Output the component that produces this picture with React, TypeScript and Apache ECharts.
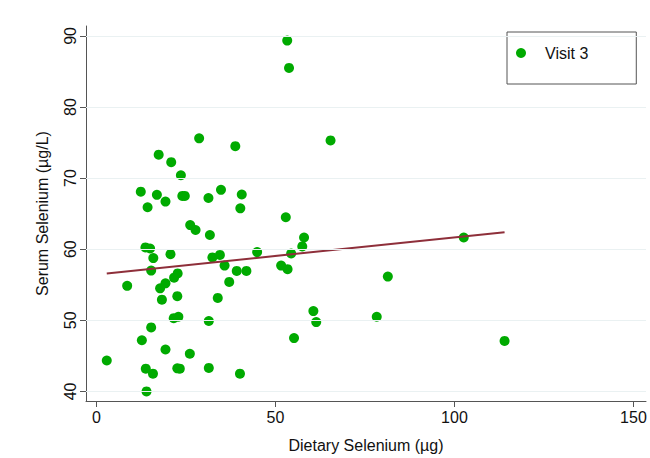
import React, { useEffect, useRef } from "react";
import * as echarts from "echarts";

const dietary: number[] = [
  53.3, 53.8, 28.7, 38.8, 65.4, 17.4, 20.9, 23.6, 12.4, 16.9,
  19.3, 14.3, 24.0, 24.7, 31.3, 34.8, 40.6, 40.2, 52.9, 26.2,
  27.7, 31.7, 13.7, 15.0, 20.7, 15.9, 32.4, 34.5, 44.9, 58.0,
  57.5, 54.4, 35.8, 39.2, 41.9, 51.6, 53.4, 15.3, 22.7, 21.7,
  19.3, 17.8, 8.6, 37.1, 22.6, 18.3, 33.9, 21.6, 22.9, 31.4,
  15.3, 12.7, 19.3, 26.1, 2.9, 13.8, 15.8, 22.6, 23.3, 31.4,
  40.1, 14.0, 60.6, 61.4, 55.2, 102.6, 81.4, 78.3, 114.0,
];
const serum: number[] = [
  89.35, 85.5, 75.6, 74.5, 75.3, 73.3, 72.25, 70.4, 68.1, 67.65,
  66.7, 65.9, 67.5, 67.5, 67.2, 68.35, 67.7, 65.75, 64.5, 63.4,
  62.7, 62.0, 60.25, 60.1, 59.3, 58.75, 58.85, 59.2, 59.6, 61.65,
  60.4, 59.4, 57.7, 56.95, 56.95, 57.7, 57.2, 57.0, 56.6, 56.0,
  55.2, 54.5, 54.85, 55.4, 53.4, 52.9, 53.15, 50.3, 50.5, 49.9,
  49.0, 47.2, 45.9, 45.3, 44.35, 43.2, 42.5, 43.25, 43.2, 43.3,
  42.5, 40.0, 51.3, 49.75, 47.5, 61.65, 56.15, 50.5, 47.1,
];
const fitX: number[] = [2.9, 114.0];
const fitY: number[] = [56.6, 62.4];
const xTicks: number[] = [0, 50, 100, 150];
const yTicks: number[] = [40, 50, 60, 70, 80, 90];

const FONT = "Arial, 'Liberation Sans', sans-serif";

export default function App() {
  const ref = useRef<HTMLDivElement>(null);
  useEffect(() => {
    if (!ref.current) return;
    const chart = echarts.init(ref.current, undefined, { renderer: "svg" });
    chart.setOption({
      animation: false,
      backgroundColor: "#ffffff",
      textStyle: { fontFamily: FONT },
      grid: { left: 86, right: 4, top: 26, bottom: 53 },
      legend: {
        left: 507,
        top: 32,
        orient: "vertical",
        padding: [12, 48, 22, 9],
        borderColor: "#555555",
        borderWidth: 1,
        itemWidth: 10,
        itemHeight: 10,
        data: [{ name: "Visit 3", icon: "circle", itemStyle: { color: "#00aa00", opacity: 1 } }],
        textStyle: {
          fontFamily: FONT,
          fontSize: 16,
          color: "#111111",
          lineHeight: 18,
          padding: [0, 0, 0, 14],
        },
      },
      xAxis: {
        type: "value",
        min: -2.9,
        max: 153.5,
        name: "Dietary Selenium (µg)",
        nameLocation: "middle",
        nameGap: 36,
        nameTextStyle: { fontFamily: FONT, fontSize: 16, color: "#111111" },
        axisLine: { show: true, onZero: false, lineStyle: { color: "#555555", width: 1 } },
        axisTick: { show: true, length: 6, customValues: xTicks, lineStyle: { color: "#555555" } },
        axisLabel: { customValues: xTicks, fontSize: 16, color: "#111111", margin: 8, fontFamily: FONT },
        splitLine: { show: false },
      },
      yAxis: {
        type: "value",
        min: 38.65,
        max: 91.4,
        name: "Serum Selenium (µg/L)",
        nameLocation: "middle",
        nameGap: 36,
        nameRotate: 90,
        nameTextStyle: { fontFamily: FONT, fontSize: 16, color: "#111111" },
        axisLine: { show: true, onZero: false, lineStyle: { color: "#555555", width: 1 } },
        axisTick: { show: true, length: 6, customValues: yTicks, lineStyle: { color: "#555555" } },
        axisLabel: { customValues: yTicks, fontSize: 16, color: "#111111", margin: 8, rotate: 90, fontFamily: FONT },
        splitLine: { show: false },
      },
      series: [
        {
          name: "gridlines",
          type: "line",
          data: [],
          silent: true,
          markLine: {
            silent: true,
            symbol: ["none", "none"],
            label: { show: false },
            lineStyle: { color: "#eaf1f2", type: "solid", width: 1 },
            data: yTicks.map((v) => ({ yAxis: v })),
          },
          z: 0,
        },
        {
          name: "Visit 3",
          type: "scatter",
          symbol: "circle",
          symbolSize: 10,
          itemStyle: { color: "#00aa00", opacity: 1 },
          data: dietary.map((d, i) => [d, serum[i]]),
          z: 3,
        },
        {
          name: "fit",
          type: "line",
          showSymbol: false,
          symbol: "none",
          lineStyle: { color: "#8e2f3a", width: 2 },
          data: fitX.map((x, i) => [x, fitY[i]]),
          z: 4,
        },
      ],
    });
    return () => chart.dispose();
  }, []);
  return <div ref={ref} style={{ width: 650, height: 458, position: "absolute", left: 0, top: 0 }} />;
}
